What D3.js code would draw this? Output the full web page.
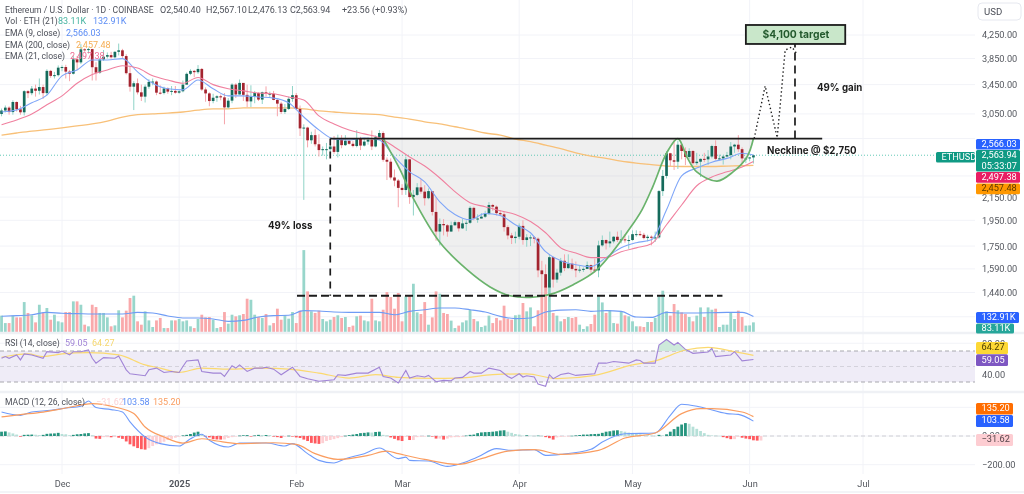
<!DOCTYPE html>
<html><head><meta charset="utf-8">
<style>html,body{margin:0;padding:0;background:#fff}svg{display:block;font-family:Roboto,"Noto Sans",sans-serif;filter:blur(.35px)}</style>
<script src="https://cdn.jsdelivr.net/npm/d3@7/dist/d3.min.js"></script></head>
<body><svg id="c" width="1024" height="494"></svg>
<script>
const firstDay = new Date(Date.UTC(2024,10,15));
const firstOpen = 3050;
const lastOpen = 2540.40;
const closes = [3094,3132,3074,3207,3110,3071,3356,3328,3393,3362,3415,3329,3655,3579,3590,3705,
3715,3644,3612,3837,3788,4002,3995,4006,3712,3628,3834,3880,3906,3870,3960,3985,3890,3620,3420,3470,3340,3280,3420,3490,3495,3335,3330,3395,3350,3360,3335,
3355,3450,3610,3655,3635,3685,3380,3325,3220,3265,3285,3270,3135,3225,3450,3310,3475,3305,3215,3280,3330,3240,3340,3320,3320,3235,3185,3075,3115,3250,3300,
3115,2870,2880,2730,2790,2685,2620,2630,2630,2660,2600,2735,2675,2725,2690,2665,2745,2670,2715,2735,2660,2765,2815,2515,2495,2335,2305,2235,
2215,2520,2150,2170,2240,2200,2140,2205,2020,1860,1920,1910,1860,1910,1935,1885,1925,1930,2055,1965,1965,1980,2005,2080,2065,2010,2000,1895,1830,1810,1820,
1905,1795,1815,1815,1805,1580,1555,1470,1670,1520,1565,1645,1595,1625,1590,1580,1585,1590,1615,1585,1580,1755,1795,1770,1785,1820,1795,1800,1795,1795,
1840,1840,1835,1810,1820,1815,1815,2205,2350,2585,2510,2495,2680,2610,2545,2610,2480,2495,2525,2520,2550,2665,2525,2530,2550,2565,2660,2680,2630,2530,2530,
2540,2563.94];
const highs = [3120,3160,3150,3230,3215,3155,3370,3370,3430,3450,3540,3450,3680,3670,3640,3740,
3740,3750,3670,3890,3890,4090,4020,4030,4010,3790,3860,3990,3950,3960,3970,4100,4010,3920,3730,3500,3540,3450,3450,3530,3540,3510,3440,3420,3410,3430,3430,
3370,3510,3630,3680,3670,3745,3700,3410,3340,3320,3300,3310,3330,3260,3470,3470,3525,3450,3450,3440,3360,3340,3350,3425,3350,3360,3250,3210,3180,3280,3430,
3330,3160,2920,2890,2830,2860,2800,2660,2700,2690,2780,2795,2790,2790,2730,2720,2850,2770,2755,2765,2845,2785,2850,2835,2540,2530,2415,2320,
2270,2550,2525,2215,2280,2320,2260,2230,2200,2150,1965,1960,1920,1940,1950,1940,1960,1950,2070,2065,2000,2010,2030,2105,2090,2075,2035,2020,1910,1850,1860,
1925,1950,1840,1835,1825,1815,1645,1620,1690,1670,1590,1665,1690,1690,1660,1640,1610,1600,1640,1620,1660,1790,1830,1800,1860,1825,1860,1870,1840,1830,
1870,1870,1865,1850,1835,1830,1860,2215,2410,2610,2590,2735,2725,2685,2650,2640,2620,2590,2530,2590,2620,2680,2730,2570,2565,2600,2710,2690,2790,2650,2540,
2545,2567.10];
const lows = [3020,3070,3040,3040,3080,3040,3030,3260,3300,3280,3310,3250,3300,3550,3540,3570,
3650,3540,3500,3600,3670,3760,3960,3930,3510,3510,3610,3810,3850,3850,3850,3900,3860,3600,3350,3100,3310,3220,3200,3390,3440,3300,3310,3310,3320,3300,3320,
3320,3340,3450,3590,3560,3610,3360,3210,3150,3190,3210,3230,2920,3120,3190,3260,3310,3220,3140,3140,3190,3220,3180,3280,3260,3230,3020,3050,3050,3100,3210,
3100,2780,2125,2650,2690,2660,2550,2560,2520,2550,2580,2540,2640,2665,2680,2650,2650,2620,2660,2680,2620,2650,2750,2495,2310,2315,2250,2060,
2170,2170,2090,1990,2160,2180,2075,2130,1990,1790,1755,1830,1820,1860,1905,1860,1880,1865,1920,1950,1930,1965,1970,1995,2030,1990,1985,1860,1800,1765,1770,
1800,1760,1745,1750,1770,1535,1410,1450,1385,1470,1500,1545,1575,1590,1580,1535,1565,1570,1590,1565,1565,1535,1745,1725,1740,1770,1780,1770,1775,1730,
1790,1820,1825,1800,1785,1755,1780,1805,2160,2325,2450,2410,2420,2520,2460,2520,2465,2460,2340,2490,2460,2530,2510,2510,2465,2540,2520,2590,2600,2480,2480,
2500,2476.13];
const volumes = [141,77,77,141,126,126,258,164,144,83,235,164,207,106,149,92,83,172,172,264,264,235,63,49,235,215,164,164,126,49,
57,187,126,184,293,313,92,63,178,100,43,100,121,34,34,100,100,112,92,100,49,34,112,149,126,129,106,34,43,172,
72,149,135,144,155,287,278,149,129,121,155,57,77,201,106,144,115,172,77,184,706,350,178,164,184,112,92,106,129,144,
121,129,43,55,135,141,100,92,287,100,92,192,344,301,201,336,92,307,316,416,169,155,258,63,126,350,330,164,155,98,
34,55,83,100,192,112,92,43,55,141,77,121,100,227,112,106,144,149,250,178,212,49,187,321,393,422,164,141,92,112,
129,121,129,63,26,49,69,149,307,255,164,187,77,72,178,144,135,92,49,49,43,86,86,121,307,356,178,141,241,187,
169,155,129,92,141,212,129,212,192,201,43,63,63,169,112,184,129,55,57,83.11];
const histogram = [30,32,25,18,10,-5,8,9,10,9,7,8,15,17,18,22,14,12,6,8,12,14,18,20,5,-18,-20,-8,-8,-9,-7,-12,-20,-38,-58,-72,-84,-92,-95,-85,
-70,-58,-50,-40,-28,-20,-12,-5,4,8,14,24,30,10,-4,-10,-22,-24,-25,-24,-14,-8,-3,3,5,6,-2,4,8,7,7,6,-3,-8,-14,-6,2,-2,-10,-14,
-25,-35,-48,-52,-55,-50,-35,-28,-22,-15,-8,2,6,10,14,20,22,25,24,28,30,8,4,-10,-20,-30,-35,-6,-28,-28,-8,-5,-3,2,-3,-18,
-18,-25,-18,-10,-8,-8,-5,3,8,10,20,25,27,28,30,33,38,40,30,22,14,10,3,5,3,2,3,2,-8,-15,-25,-10,-6,-3,-1,2,
4,7,10,10,13,14,15,22,30,33,38,40,35,30,24,22,18,12,8,5,3,2,8,5,12,30,48,65,80,90,85,65,
50,35,20,8,4,3,2,-8,-15,-22,-22,-5,-12,-18,-22,-30,-32,-31.62];

// Line samples, every fourth day plus the last day
const ema9 = [3075,3100,3196,3300,3580,3669,3827,3827,3848,3640,3470,3390,3374,3518,3390,3290,3290,3275,3260,3196,3011,2852,2745,2734,2757,2734,2545,2391,2293,2108,1999,1955,2007,1990,1914,1851,1709,1646,1618,1605,1667,1737,1775,1797,2038,2351,2430,2490,2530,2585,2566.03];
const ema21 = [2915,2974,3050,3170,3290,3470,3600,3669,3735,3700,3580,3518,3470,3555,3450,3390,3360,3330,3320,3275,3235,3025,2925,2852,2805,2760,2655,2545,2450,2330,2200,2100,2065,2030,1999,1940,1851,1737,1700,1667,1667,1709,1737,1767,1914,2080,2255,2340,2391,2440,2497.38];
const ema200 = [2790,2815,2838,2855,2876,2900,2925,2960,3010,3040,3050,3060,3075,3100,3115,3115,3128,3128,3128,3128,3115,3090,3075,3060,3050,3040,3010,2985,2950,2925,2890,2855,2815,2790,2745,2715,2675,2635,2590,2555,2530,2500,2480,2465,2450,2445,2445,2445,2450,2453,2457.48];
const volMA = [135,141,149,169,161,158,155,155,155,169,164,138,121,121,112,92,100,129,141,144,184,181,172,169,169,169,149,178,192,207,207,192,172,135,115,121,172,189,192,178,184,178,129,126,169,164,164,166,169,169,132.91];

const rsiDays = [0,1,2,4,5,6,8,11,12,15,16,18,19,21,23,24,25,27,30,31,33,34,36,38,39,41,43,45,47,48,49,52,53,56,58,59,61,62,63,65,67,69,70,72,74,77,79,81,84,88,89,91,94,95,97,100,101,103,105,107,108,110,112,113,115,117,119,120,122,124,125,127,129,132,134,135,137,138,139,141,142,144,145,146,148,150,152,157,158,160,162,166,168,169,170,173,174,176,178,179,181,183,187,188,189,193,194,196,199];
const rsiValues = [60.6,62.8,60.6,64.9,58.5,66.2,64.9,60.6,69.1,67.9,70,64.9,69.1,69.1,71.3,60.6,54.3,61.5,60.6,63.6,45.7,40.6,39.4,38.1,45.7,47.9,42.3,43.6,42.3,50,57.2,58.5,43.6,41.5,41.5,37.2,50.9,47.9,52.1,43.6,47.9,47.9,49.1,46.6,39.4,49.1,37.2,34.3,30.9,33,39.4,38.5,41.5,41.5,41.5,49.1,37.2,35.1,28.7,44.9,35.1,38.1,36.4,38.5,30.4,32.1,31.7,35.1,36,43.6,41.5,41.5,47.9,44.9,37.2,34.7,40.6,36.4,38.1,36.4,27.4,24.5,39.4,34.3,39.8,41.5,38.5,40.6,54.3,54.3,56.4,54.3,58.5,57.7,54.3,54.3,77.7,84.9,77.7,81.1,72.1,67,68.7,73.4,62.8,64.9,69.1,57.2,59.05];
const rsiMaDays = [0,7,11,16,23,31,38,42,47,53,60,69,76,84,92,99,105,114,121,130,139,147,157,167,173,181,187,194,199];
const rsiMaValues = [61.9,66.2,62.8,66.2,67.9,64.9,52.1,47.9,42.3,47.9,46.6,47.9,46.6,41.5,35.1,39.4,36,34.7,35.1,39.4,40.6,34.3,38.5,52.1,57.2,71.3,74.7,69.1,64.27];
const macdDays = [0,5,8,13,17,21,23,25,29,32,34,38,42,47,50,53,55,60,63,70,75,77,81,84,88,91,96,100,105,107,108,113,118,122,126,131,135,141,144,148,156,159,165,173,177,180,185,192,195,199];
const macdValues = [167,144,167,179,195,207,244,198,184,167,98,-7,-53,-70,-19,12,-30,-77,-49,-49,-70,-53,-123,-170,-188,-158,-123,-84,-158,-147,-170,-174,-212,-188,-147,-88,-100,-95,-135,-128,-93,-42,16,21,144,221,202,156,151,103.58];
const signalDays = [0,5,11,17,24,30,35,38,43,48,53,57,63,72,78,83,89,97,102,105,112,121,127,134,141,148,158,165,173,180,185,188,196,199];
const signalValues = [133,149,167,195,226,202,156,63,-7,-49,-19,-35,-53,-47,-58,-123,-163,-135,-105,-123,-163,-198,-158,-105,-95,-128,-100,-14,21,156,191,191,167,135.2];

const priceGrid = [4250,3850,3450,3050,2750,2350,2150,1950,1750,1590,1440,1300];
const priceTicks = [4250,3850,3450,3050,2150,1950,1750,1590,1440,1300];
const monthTicks = [[2024,11,"Dec"],[2025,0,"2025"],[2025,1,"Feb"],[2025,2,"Mar"],[2025,3,"Apr"],[2025,4,"May"],[2025,5,"Jun"],[2025,6,"Jul"]];
const rsiTicks = [80,40];
const rsiBands = [70,50,30];
const macdGrid = [200,0,-200];
const macdTicks = [0,-200];

// Drawn annotations, in days from the first candle and price
const neckPrice = 2750, bottomPrice = 1420;
const cupDays = [101,105.5,108.9,116.1,123.2,129.3,134.6,139.9,145.2,151.3,157.6,166.4,169.5,172.4,176.1,179,181.4,184,189.4,193.6,197.3,199];
const cupPrices = [2750,2411,2143,1774,1585,1474,1420,1410,1428,1488,1585,1890,2038,2250,2593,2750,2545,2390,2300,2390,2545,2750];
const pathDays = [199.2,202.1,205.3,207.4,209.2,210.5];
const pathPrices = [2750,3430,2760,3990,4040,3925];
const neckDays = [87,217.2], bottomDays = [78.2,190.8], lossDay = 87, gainDay = 210;
const targetDays = [197,223.3], targetPrices = [4433,4093];

const svg = d3.select("#c");
const day = i => firstDay.getTime() + i*864e5;
const x = d3.scaleTime().domain([Date.UTC(2024,11,1),Date.UTC(2025,6,1)]).range([62,863]);
const X = i => x(day(i));
const y = d3.scaleLog().domain([4924,1395]).range([0,300]);
const yVol = d3.scaleLinear().domain([0,1000]).range([332,216]);
const yRsi = d3.scaleLinear().domain([70,30]).range([351,382]);
const yMacd = d3.scaleLinear().domain([0,-200]).range([436,464.7]);
const plotR = 975, gridC = "#f2f3f8", up="#156b5c", dn="#a3242f", upW="#8fd3c7", dnW="#f6a5ab";
const sampleDays = d3.range(0,200,4).concat([199]);
const n = closes.length;
const opens = closes.map((c,i)=> i===0?firstOpen : i===n-1?lastOpen : closes[i-1]);

// grid
const vg = svg.append("g");
monthTicks.forEach(([a,b])=>{const p=x(Date.UTC(a,b,1));vg.append("line").attr("x1",p).attr("x2",p).attr("y1",0).attr("y2",474).attr("stroke",gridC);});
const gridH = (vals,s)=>vals.forEach(v=>vg.append("line").attr("x1",0).attr("x2",plotR).attr("y1",s(v)).attr("y2",s(v)).attr("stroke",gridC));
gridH(priceGrid,y); gridH(rsiTicks,yRsi); gridH(macdGrid,yMacd);

// cup fill
const cupData = cupDays.map((d,i)=>[X(d),y(cupPrices[i])]);
const cupCurve = d3.curveCatmullRom.alpha(.5);
svg.append("path").attr("d",d3.area().x(d=>d[0]).y0(y(neckPrice)).y1(d=>d[1]).curve(cupCurve)(cupData)).attr("fill","#8e8e8e").attr("opacity",.14);

// volume
svg.append("g").selectAll("rect").data(volumes).join("rect")
 .attr("x",(d,i)=>X(i)-1.4).attr("width",2.8).attr("y",d=>yVol(d)).attr("height",d=>332-yVol(d))
 .attr("fill",(d,i)=>closes[i]>=opens[i]?"#98d6cb":"#f9a9ab");
const line = (xs,ys,s,col,w,curve=d3.curveMonotoneX)=>svg.append("path")
 .attr("d",d3.line().x((d,i)=>X(xs[i])).y(d=>s(d)).curve(curve)(ys)).attr("fill","none").attr("stroke",col).attr("stroke-width",w);
line(sampleDays,volMA,yVol,"#6f9cf5",1.1);

// last price dotted
svg.append("line").attr("x1",0).attr("x2",936).attr("y1",y(closes[n-1])).attr("y2",y(closes[n-1])).attr("stroke","#63c9b6").attr("stroke-width",1).attr("stroke-dasharray","1 2");

line(sampleDays,ema200,y,"#f8c078",1.3);

// candles
const cg = svg.append("g");
closes.forEach((c,i)=>{
 const isUp=c>=opens[i];
 cg.append("line").attr("x1",X(i)).attr("x2",X(i)).attr("y1",y(highs[i])).attr("y2",y(lows[i])).attr("stroke",isUp?upW:dnW).attr("stroke-width",1);
 const t=Math.min(y(c),y(opens[i])),h=Math.max(Math.abs(y(c)-y(opens[i])),1);
 cg.append("rect").attr("x",X(i)-1.35).attr("width",2.7).attr("y",t).attr("height",h).attr("fill",isUp?up:dn);
});
line(sampleDays,ema9,y,"#7fa6f8",1.1);
line(sampleDays,ema21,y,"#f0809f",1.1);

// RSI pane
svg.append("rect").attr("x",0).attr("width",plotR).attr("y",yRsi(70)).attr("height",yRsi(30)-yRsi(70)).attr("fill","#efecf7");
rsiBands.forEach(v=>svg.append("line").attr("x1",0).attr("x2",plotR).attr("y1",yRsi(v)).attr("y2",yRsi(v)).attr("stroke",v===50?"#d4d2dc":"#a8a8ae").attr("stroke-dasharray","4 3"));
svg.append("clipPath").attr("id","ob").append("rect").attr("x",0).attr("width",plotR).attr("y",330).attr("height",yRsi(70)-330);
svg.append("path").attr("clip-path","url(#ob)").attr("d",d3.area().x((d,i)=>X(rsiDays[i])).y0(yRsi(70)).y1(d=>yRsi(d))(rsiValues)).attr("fill","#cdeadb");
line(rsiMaDays,rsiMaValues,yRsi,"#fbd96f",1.2);
line(rsiDays,rsiValues,yRsi,"#a184d6",1.1,d3.curveLinear);

// MACD pane
svg.append("line").attr("x1",0).attr("x2",plotR).attr("y1",yMacd(0)).attr("y2",yMacd(0)).attr("stroke","#cfcfd4").attr("stroke-dasharray","4 3");
svg.append("g").selectAll("rect").data(histogram).join("rect")
 .attr("x",(d,i)=>X(i)-1.4).attr("width",2.8)
 .attr("y",d=>Math.min(yMacd(d),yMacd(0))).attr("height",d=>Math.max(Math.abs(yMacd(d)-yMacd(0)),.6))
 .attr("fill",(d,i)=>{const p=i?histogram[i-1]:d; return d>=0?(d>=p?"#26957f":"#b6e0d8"):(d<p?"#ff5a5f":"#fdcfd3");});
line(macdDays,macdValues,yMacd,"#6f9bfb",1.1);
line(signalDays,signalValues,yMacd,"#fa9d60",1.2);

// annotations
svg.append("path").attr("d",d3.line().curve(cupCurve)(cupData)).attr("fill","none").attr("stroke","#6ab36c").attr("stroke-width",1.7);
const ink="#1c1c1c";
svg.append("line").attr("x1",X(neckDays[0])).attr("x2",X(neckDays[1])).attr("y1",y(neckPrice)).attr("y2",y(neckPrice)).attr("stroke",ink).attr("stroke-width",1.8);
svg.append("line").attr("x1",X(bottomDays[0])).attr("x2",X(bottomDays[1])).attr("y1",y(bottomPrice)).attr("y2",y(bottomPrice)).attr("stroke",ink).attr("stroke-width",1.8).attr("stroke-dasharray","8 4");
svg.append("line").attr("x1",X(lossDay)).attr("x2",X(lossDay)).attr("y1",y(neckPrice)).attr("y2",y(bottomPrice)).attr("stroke",ink).attr("stroke-width",1.7).attr("stroke-dasharray","7 6");
svg.append("line").attr("x1",X(gainDay)).attr("x2",X(gainDay)).attr("y1",y(neckPrice)).attr("y2",y(targetPrices[1])).attr("stroke",ink).attr("stroke-width",1.7).attr("stroke-dasharray","8 5");
svg.append("path").attr("d",d3.line().x((d,i)=>X(pathDays[i])).y(d=>y(d))(pathPrices)).attr("fill","none").attr("stroke",ink).attr("stroke-width",1.4).attr("stroke-dasharray","1.4 2.6");
svg.append("rect").attr("x",X(targetDays[0])).attr("width",X(targetDays[1])-X(targetDays[0])).attr("y",y(targetPrices[0])).attr("height",y(targetPrices[1])-y(targetPrices[0])).attr("fill","#c9e7ca").attr("stroke",ink).attr("stroke-width",1.8);
const txt=(t,px,py,col,size=10,weight=400,anchor="start",fam)=>svg.append("text").attr("x",px).attr("y",py).attr("fill",col).attr("font-size",size).attr("font-weight",weight).attr("text-anchor",anchor).attr("dominant-baseline","middle").attr("font-family",fam||null).text(t);
txt("$4,100 target",796,35,"#245a2e",10.3,700,"middle","Inter");
txt("49% gain",817,88,ink,9.7,700,"start","Inter");
txt("Neckline @ $2,750",767,151,ink,9.7,700,"start","Inter");
txt("49% loss",268,226,ink,9.7,700,"start","Inter");

// legend
const lg="#4c4f58", fs=9, ls=8.6;
txt("Ethereum / U.S. Dollar · 1D · COINBASE",5,11,lg,ls);
[["O2,540.40",160],["H2,567.10",206],["L2,476.13",248],["C2,563.94",290],["+23.56 (+0.93%)",342]].forEach(([t,p])=>txt(t,p,11,lg,fs));
txt("Vol · ETH (21)",5,22,lg,ls); txt("83.11K",58,22,"#45b3a0",fs); txt("132.91K",93,22,"#5c8df5",fs);
txt("EMA (9, close)",5,34,lg,ls); txt("2,566.03",66,34,"#5c8df5",fs);
txt("EMA (200, close)",5,46,lg,ls); txt("2,457.48",76,46,"#f5ae55",fs);
txt("EMA (21, close)",5,57,lg,ls); txt("2,497.38",70,57,"#ee6b92",fs);
txt("RSI (14, close)",5,344,lg,ls); txt("59.05",65,344,"#a184d6",fs); txt("64.27",92,344,"#f5d76e",fs);
txt("MACD (12, 26, close)",5,403,lg,ls); txt("−31.62",96,403,"#fbd3d6",fs); txt("103.58",122,403,"#5c8df5",fs); txt("135.20",153,403,"#fa9d60",fs);

// axes
const fmt=d3.format(",.2f");
const axisStyle=g=>{g.select(".domain").remove();g.selectAll(".tick line").remove();g.selectAll("text").attr("fill","#55585f").attr("font-size",9.2).attr("font-family","Roboto");};
svg.append("g").attr("transform","translate(976,0)").call(d3.axisRight(y).tickValues(priceTicks).tickFormat(fmt).tickSize(0).tickPadding(6)).call(axisStyle);
svg.append("g").attr("transform","translate(976,0)").call(d3.axisRight(yRsi).tickValues(rsiTicks).tickFormat(fmt).tickSize(0).tickPadding(6)).call(axisStyle);
svg.append("g").attr("transform","translate(976,0)").call(d3.axisRight(yMacd).tickValues(macdTicks).tickFormat(d=>fmt(d).replace("-","−")).tickSize(0).tickPadding(6)).call(axisStyle);
svg.append("g").attr("transform","translate(0,477)").call(d3.axisBottom(x).tickValues(monthTicks.map(m=>new Date(Date.UTC(m[0],m[1],1)))).tickFormat((d,i)=>monthTicks[i][2]).tickSize(0).tickPadding(3)).call(axisStyle)
 .selectAll("text").attr("font-weight",(d,i)=>monthTicks[i][2]==="2025"?700:400);

// separators
[[333,"#eff1f5",2.4],[392,"#eff1f5",2.4],[492,"#eff1f5",1.6]].forEach(([p,c,w])=>svg.append("line").attr("x1",0).attr("x2",1024).attr("y1",p).attr("y2",p).attr("stroke",c).attr("stroke-width",w));

// right-hand pills
const pill=(lines,px,w,py,h,fill,tc="#fff")=>{
 svg.append("rect").attr("x",px).attr("y",py).attr("width",w).attr("height",h).attr("rx",1.5).attr("fill",fill);
 lines.forEach((t,i)=>txt(t,px+5.5,py+(h/lines.length)*(i+.5),tc,9.2));
};
pill(["2,566.03"],976,44,139,10.5,"#2962ff");
pill(["2,563.94","05:33:07"],976,44,150,21.5,"#109a84");
pill(["ETHUSD"],936,39,152,10.5,"#109a84");
pill(["2,497.38"],976,44,172,10.8,"#e91e63");
pill(["2,457.48"],976,44,183.5,10.8,"#ff9800","#5b3a00");
pill(["132.91K"],976,43,312,11,"#2962ff");
pill(["83.11K"],976,38,323.5,10,"#26a69a");
pill(["64.27"],976,32,342,12,"#fdd835","#4a3c00");
pill(["59.05"],976,32,354.2,11.8,"#7e57c2");
pill(["135.20"],976,37,403,11.6,"#ff6d00");
pill(["103.58"],976,37,415,12,"#2962ff");
pill(["−31.62"],976,37,434,12,"#fdcdd2","#55454a");
svg.append("rect").attr("x",978).attr("y",3).attr("width",43).attr("height",17).attr("rx",4).attr("fill","#fff").attr("stroke","#e6e8ef");
txt("USD",984,12,"#4c4f58",9.6);
</script></body></html>
